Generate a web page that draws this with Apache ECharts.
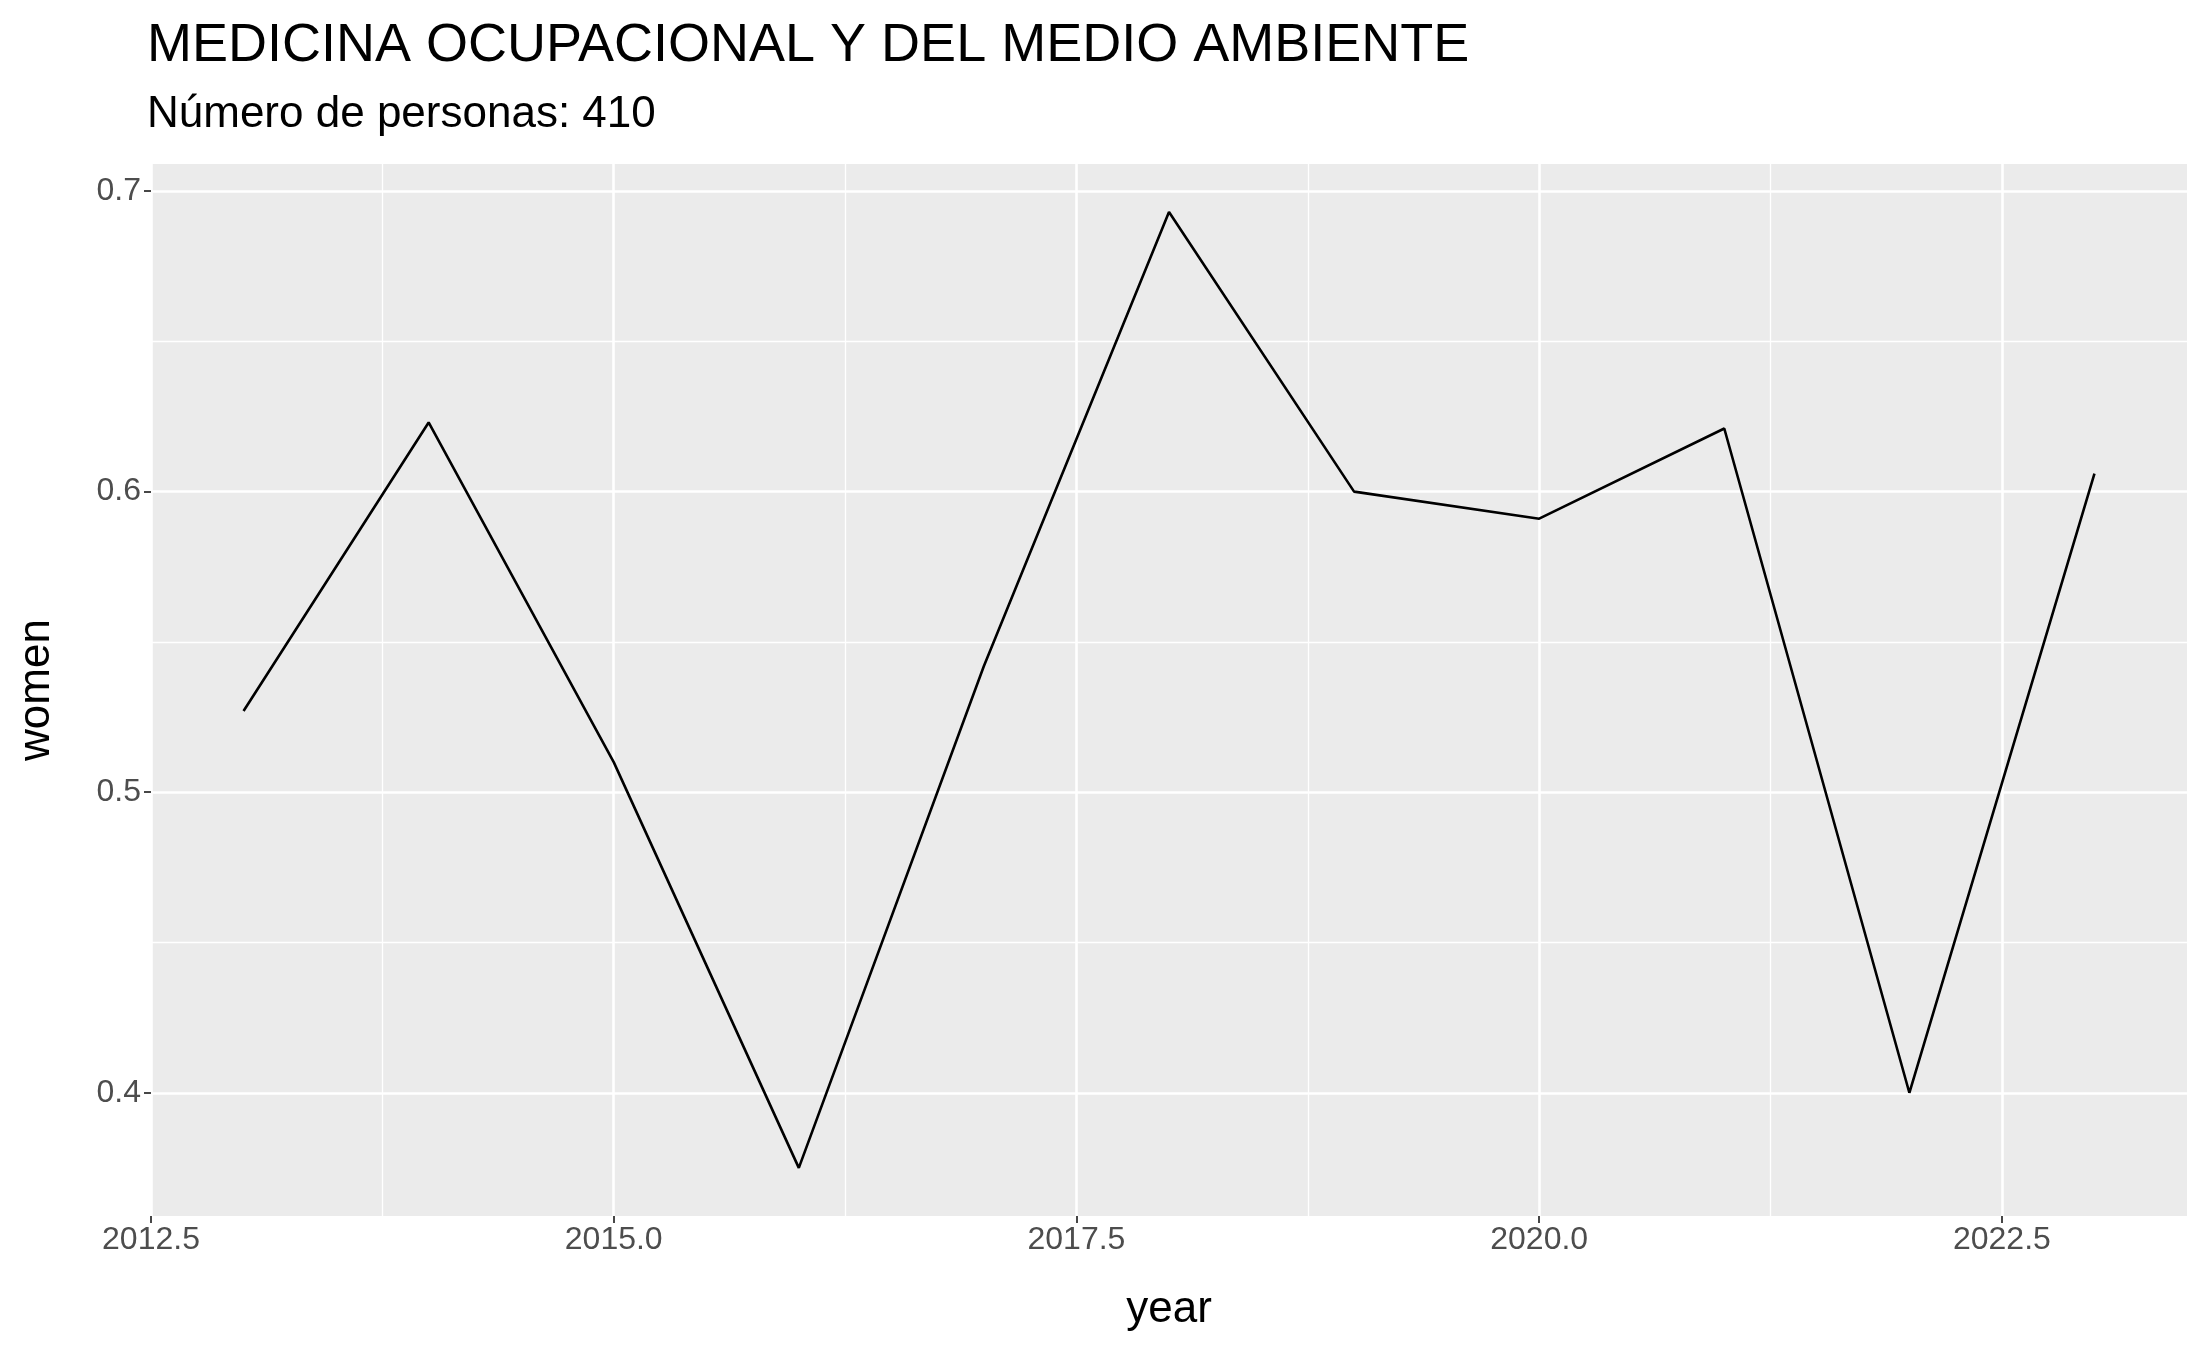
<!DOCTYPE html>
<html><head><meta charset="utf-8">
<script src="https://cdn.jsdelivr.net/npm/echarts@6/dist/echarts.min.js"></script>
<style>html,body{margin:0;padding:0;background:#fff}#c{width:2187px;height:1350px}</style>
</head><body><div id="c"></div>
<script>
const years = [2013,2014,2015,2016,2017,2018,2019,2020,2021,2022,2023];
const women = [0.527,0.623,0.510,0.375,0.542,0.693,0.600,0.591,0.621,0.400,0.606];
const xMajor = [2012.5,2015,2017.5,2020,2022.5];
const xMinor = [2013.75,2016.25,2018.75,2021.25];
const yMajor = [0.4,0.5,0.6,0.7];
const yMinor = [0.45,0.55,0.65];
const titleText = 'MEDICINA OCUPACIONAL Y DEL MEDIO AMBIENTE';
const subtitleText = 'Número de personas: 410';

const chart = echarts.init(document.getElementById('c'));
const ff = 'Liberation Sans, Arial';
const lab = {color:'#4D4D4D', fontSize:32, fontFamily:ff};
chart.setOption({
  animation:false,
  title:[
    {text:titleText, left:142, top:14, textStyle:{fontSize:54, fontWeight:'normal', color:'#000', fontFamily:ff}},
    {text:subtitleText, left:142, top:88, textStyle:{fontSize:44, fontWeight:'normal', color:'#000', fontFamily:ff}}
  ],
  grid:[{left:151, right:-9, top:164, bottom:134, show:true, backgroundColor:'#EBEBEB', borderWidth:0}],
  xAxis:[
    {type:'value', min:2012.5, max:2023.5, axisLine:{show:false},
     axisTick:{show:false, customValues:xMinor}, axisLabel:{show:false, customValues:xMinor},
     splitLine:{show:true, lineStyle:{color:'#fff', width:1.3}}},
    {type:'value', min:2012.5, max:2023.5, position:'bottom',
     name:'year', nameLocation:'middle', nameGap:72, nameTextStyle:{fontSize:44, color:'#000', fontFamily:ff},
     axisLine:{show:false}, axisTick:{show:true, length:7, customValues:xMajor, lineStyle:{color:'#333', width:1.8}},
     axisLabel:Object.assign({margin:8, customValues:xMajor, formatter:v=>v.toFixed(1)}, lab),
     splitLine:{show:true, lineStyle:{color:'#fff', width:2.6}}}
  ],
  yAxis:[
    {type:'value', min:0.359, max:0.709, axisLine:{show:false},
     axisTick:{show:false, customValues:yMinor}, axisLabel:{show:false, customValues:yMinor},
     splitLine:{show:true, lineStyle:{color:'#fff', width:1.3}}},
    {type:'value', min:0.359, max:0.709, position:'left',
     name:'women', nameLocation:'middle', nameGap:92, nameRotate:90, nameTextStyle:{fontSize:44, color:'#000', fontFamily:ff},
     axisLine:{show:false}, axisTick:{show:true, length:7, customValues:yMajor, lineStyle:{color:'#333', width:1.8}},
     axisLabel:Object.assign({margin:10, customValues:yMajor, formatter:v=>v.toFixed(1)}, lab),
     splitLine:{show:true, lineStyle:{color:'#fff', width:2.6}}}
  ],
  series:[{type:'line', xAxisIndex:1, yAxisIndex:1, data:years.map((y,i)=>[y,women[i]]),
    showSymbol:false, lineStyle:{color:'#000', width:2.6}}]
});
</script></body></html>
